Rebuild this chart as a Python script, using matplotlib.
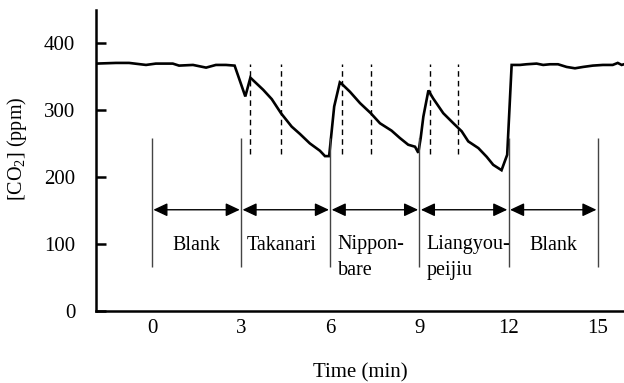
import matplotlib
matplotlib.use('Agg')
from matplotlib import pyplot as plt

plt.rcParams['font.family'] = ['Liberation Serif', 'DejaVu Serif']
plt.rcParams['mathtext.fontset'] = 'custom'
plt.rcParams['mathtext.rm'] = 'Liberation Serif'

# CO2 trace (time in min, ppm)
time = [-1.88, -1.21, -0.77, -0.2, 0.13, 0.7, 0.91, 1.38, 1.82, 2.15, 2.49, 2.78,
        3.14, 3.31, 3.74, 4.03, 4.34, 4.70, 4.98, 5.31, 5.65, 5.82, 5.96,
        6.13, 6.32, 6.38, 6.66, 7.0, 7.36, 7.67, 8.06, 8.34, 8.62, 8.85, 8.96,
        9.04, 9.13, 9.30, 9.46, 9.80, 10.14, 10.42, 10.64, 10.98, 11.26, 11.48,
        11.76, 11.95, 12.1, 12.38, 12.6, 12.94, 13.16, 13.39, 13.66, 13.95,
        14.23, 14.5, 14.83, 15.17, 15.5, 15.67, 15.8, 15.88]
co2 = [369, 370, 370, 367, 369, 369, 366, 367, 363, 367, 367, 366,
       320, 348, 330, 316, 295, 275, 264, 250, 239, 231, 231,
       305, 341, 339, 327, 310, 295, 280, 269, 258, 248, 245, 236,
       258, 290, 329, 317, 295, 280, 268, 253, 243, 230, 218,
       210, 233, 367, 367, 368, 369, 367, 368, 368, 364,
       362, 364, 366, 367, 367, 370, 367, 368]

boundaries = [0, 3, 6, 9, 12, 15]
segment_labels = ['Blank', 'Takanari', 'Nippon-\nbare', 'Liangyou-\npeijiu', 'Blank']
dashed_times = [3.3, 4.34, 6.4, 7.37, 9.36, 10.3]
xticks = [0, 3, 6, 9, 12, 15]
yticks = [0, 100, 200, 300, 400]

fig = plt.figure(figsize=(6.24, 3.83), dpi=100)
ax = fig.add_axes([0.154, 0.188, 0.846, 0.786])

ax.plot(time, co2, 'k-', lw=1.9, solid_joinstyle='miter')

# segment boundaries and arrows
ax.vlines(boundaries, 66, 258, colors='#444444', lw=1.0)
ax.vlines(dashed_times, 234, 369, colors='k', lw=1.0, linestyles=(0, (4, 3)))
for a, b in zip(boundaries[:-1], boundaries[1:]):
    ax.annotate('', xy=(b, 151), xytext=(a, 151),
                arrowprops=dict(arrowstyle='<|-|>,head_length=0.85,head_width=0.4',
                                mutation_scale=10, color='k', lw=1.0,
                                shrinkA=1, shrinkB=1))

# labels under the arrows
ax.text(1.5, 98, segment_labels[0], ha='center', va='center', fontsize=14.5)
ax.text(3.2, 98, segment_labels[1], ha='left', va='center', fontsize=14.5)
ax.text(6.25, 113, segment_labels[2], ha='left', va='top', fontsize=14.5,
        linespacing=1.5)
ax.text(9.25, 113, segment_labels[3], ha='left', va='top', fontsize=14.5,
        linespacing=1.5)
ax.text(13.5, 98, segment_labels[4], ha='center', va='center', fontsize=14.5)

ax.set_xlim(-1.88, 15.88)
ax.set_ylim(0, 449)
ax.set_xticks(xticks)
ax.set_yticks(yticks)
ax.tick_params(axis='x', length=0, pad=6, labelsize=15)
ax.tick_params(axis='y', direction='in', length=7, width=1.8, pad=15, labelsize=15)

for side in ['top', 'right']:
    ax.spines[side].set_visible(False)
for side in ['left', 'bottom']:
    ax.spines[side].set_linewidth(1.8)

ax.set_xlabel('Time (min)', fontsize=15, labelpad=18)
ax.text(-0.149, 0.54, '[CO$_\\mathrm{2}$] (ppm)', transform=ax.transAxes,
        rotation=90, ha='center', va='center', fontsize=14.5)

fig.savefig('out.png', dpi=100)
